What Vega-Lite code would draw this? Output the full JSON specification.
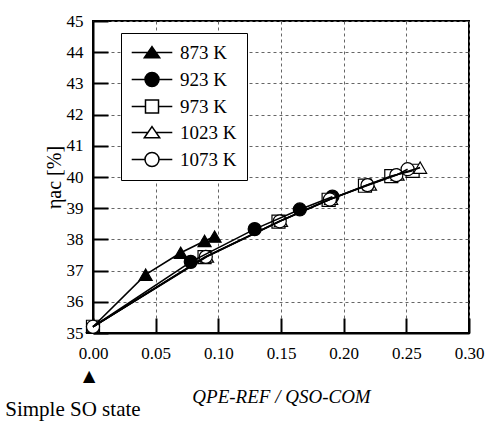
{
  "$schema": "https://vega.github.io/schema/vega-lite/v6.json",
  "autosize": {"type": "none"},
  "width": 376,
  "height": 312,
  "padding": {"left": 93, "top": 21, "right": 20, "bottom": 88},
  "background": "white",
  "config": {
    "font": "Liberation Serif",
    "view": {"stroke": "black", "strokeWidth": 2},
    "axis": {
      "labelFont": "Liberation Serif",
      "labelFontSize": 17,
      "labelColor": "black",
      "labelOverlap": false,
      "labelSeparation": 0,
      "domainColor": "black",
      "domainWidth": 2,
      "tickColor": "black",
      "tickWidth": 2,
      "tickSize": -15,
      "gridColor": "#666",
      "gridDash": [3, 3],
      "gridWidth": 1,
      "titleFont": "Liberation Serif",
      "titleColor": "black",
      "titleFontWeight": "normal"
    },
    "axisY": {"labelOverlap": false, "labelFont": "Liberation Serif"},
    "axisX": {"labelOverlap": false, "labelFont": "Liberation Serif"},
    "axisQuantitative": {"labelOverlap": false, "labelFont": "Liberation Serif"}
  },
  "resolve": {
    "scale": {"shape": "independent", "fill": "independent"},
    "legend": {"shape": "independent", "fill": "independent"}
  },
  "datasets": {
    "series": [
      {"T": "873 K", "x": 0.0, "y": 35.2},
      {"T": "873 K", "x": 0.042, "y": 36.87},
      {"T": "873 K", "x": 0.070, "y": 37.57},
      {"T": "873 K", "x": 0.089, "y": 37.95},
      {"T": "873 K", "x": 0.097, "y": 38.09},
      {"T": "923 K", "x": 0.0, "y": 35.2},
      {"T": "923 K", "x": 0.078, "y": 37.28},
      {"T": "923 K", "x": 0.129, "y": 38.33},
      {"T": "923 K", "x": 0.165, "y": 38.96},
      {"T": "923 K", "x": 0.191, "y": 39.37},
      {"T": "973 K", "x": 0.0, "y": 35.2},
      {"T": "973 K", "x": 0.089, "y": 37.43},
      {"T": "973 K", "x": 0.148, "y": 38.57},
      {"T": "973 K", "x": 0.188, "y": 39.27},
      {"T": "973 K", "x": 0.217, "y": 39.72},
      {"T": "973 K", "x": 0.238, "y": 40.03},
      {"T": "973 K", "x": 0.255, "y": 40.2},
      {"T": "1023 K", "x": 0.0, "y": 35.2},
      {"T": "1023 K", "x": 0.091, "y": 37.45},
      {"T": "1023 K", "x": 0.150, "y": 38.6},
      {"T": "1023 K", "x": 0.190, "y": 39.3},
      {"T": "1023 K", "x": 0.221, "y": 39.76},
      {"T": "1023 K", "x": 0.243, "y": 40.08},
      {"T": "1023 K", "x": 0.261, "y": 40.3},
      {"T": "1073 K", "x": 0.0, "y": 35.2},
      {"T": "1073 K", "x": 0.090, "y": 37.44},
      {"T": "1073 K", "x": 0.149, "y": 38.58},
      {"T": "1073 K", "x": 0.189, "y": 39.28},
      {"T": "1073 K", "x": 0.219, "y": 39.74},
      {"T": "1073 K", "x": 0.242, "y": 40.06},
      {"T": "1073 K", "x": 0.251, "y": 40.25}
    ],
    "notes": [
      {"x": -0.003, "y": 33.59, "text": "▲"},
      {"x": -0.016, "y": 32.53, "text": "Simple SO state"}
    ]
  },
  "layer": [
    {
      "data": {"name": "series"},
      "mark": {"type": "point", "filled": true, "stroke": "black", "strokeWidth": 1.2, "size": 170, "opacity": 1},
      "encoding": {
        "x": {"field": "x", "type": "quantitative", "scale": {"domain": [0, 0.3], "nice": false, "zero": false},
          "axis": {"values": [0, 0.05, 0.1, 0.15, 0.2, 0.25, 0.3], "format": ".2f", "labelOverlap": false, "labelFlush": false, "labelFont": "Liberation Serif", "labelPadding": 27, "title": "QPE-REF / QSO-COM", "titleFontSize": 19, "titleFontStyle": "italic", "titlePadding": 26}},
        "y": {"field": "y", "type": "quantitative", "scale": {"domain": [35, 45], "nice": false, "zero": false},
          "axis": {"values": [35, 36, 37, 38, 39, 40, 41, 42, 43, 44, 45], "tickCount": 11, "labelOverlap": false, "labelSeparation": 0, "labelFlush": false, "labelFont": "Liberation Serif", "labelPadding": 25, "title": "ηac [%]", "titleFontSize": 20, "titlePadding": 2}},
        "shape": {"field": "T", "type": "nominal",
          "scale": {"domain": ["873 K", "923 K", "973 K", "1023 K", "1073 K"], "range": ["triangle-up", "circle", "square", "triangle-up", "circle"]},
          "legend": null},
        "color": {"field": "T", "type": "nominal",
          "scale": {"domain": ["873 K", "923 K", "973 K", "1023 K", "1073 K"], "range": ["black", "black", "white", "white", "white"]},
          "legend": null}
      }
    },
    {
      "data": {"name": "series"},
      "mark": {"type": "line", "color": "black", "strokeWidth": 1.6},
      "encoding": {
        "x": {"field": "x", "type": "quantitative"},
        "y": {"field": "y", "type": "quantitative"},
        "detail": {"field": "T", "type": "nominal"}
      }
    },
    {
      "data": {"name": "series"},
      "mark": {"type": "point", "filled": true, "stroke": "black", "strokeWidth": 1.5, "size": 196, "opacity": 0},
      "encoding": {
        "x": {"field": "x", "type": "quantitative"},
        "y": {"field": "y", "type": "quantitative"},
        "shape": {"field": "T", "type": "nominal",
          "scale": {"domain": ["873 K", "923 K", "973 K", "1023 K", "1073 K"],
            "range": [
              "M-2.9,0H2.9M0,-0.85L1.1,0.75L-1.1,0.75Z",
              "M-2.9,0H2.9M-1,0A1,1 0 1,1 1,0A1,1 0 1,1 -1,0Z",
              "M-2.9,0H-0.93M0.93,0H2.9M-0.93,-0.93H0.93V0.93H-0.93Z",
              "M-2.9,0H-0.58M0.58,0H2.9M0,-0.85L1.1,0.75L-1.1,0.75Z",
              "M-2.9,0H-1M1,0H2.9M-1,0A1,1 0 1,1 1,0A1,1 0 1,1 -1,0Z"
            ]},
          "legend": {
            "title": null,
            "orient": "none",
            "legendX": 28,
            "legendY": 12,
            "fillColor": "white",
            "strokeColor": "black",
            "padding": 10,
            "symbolSize": 196,
            "symbolOffset": 11.5,
            "symbolOpacity": 1,
            "symbolStrokeWidth": 1.5,
            "labelOffset": 18.5,
            "labelFont": "Liberation Serif",
            "labelFontSize": 19,
            "labelColor": "black",
            "rowPadding": 6
          }
        },
        "fill": {"field": "T", "type": "nominal",
          "scale": {"domain": ["873 K", "923 K", "973 K", "1023 K", "1073 K"], "range": ["black", "black", "white", "white", "white"]},
          "legend": {
            "title": null,
            "orient": "none",
            "legendX": 28,
            "legendY": 12,
            "fillColor": "white",
            "strokeColor": "black",
            "padding": 10,
            "symbolSize": 196,
            "symbolOffset": 11.5,
            "symbolOpacity": 1,
            "symbolStrokeWidth": 1.5,
            "labelOffset": 18.5,
            "labelFont": "Liberation Serif",
            "labelFontSize": 19,
            "labelColor": "black",
            "rowPadding": 6
          }
        }
      }
    },
    {
      "data": {"name": "notes"},
      "mark": {"type": "text", "clip": false, "font": "Liberation Serif", "fontSize": 21, "color": "black", "align": "center", "baseline": "middle"},
      "encoding": {
        "x": {"field": "x", "type": "quantitative"},
        "y": {"field": "y", "type": "quantitative"},
        "text": {"field": "text", "type": "nominal"}
      }
    }
  ]
}
